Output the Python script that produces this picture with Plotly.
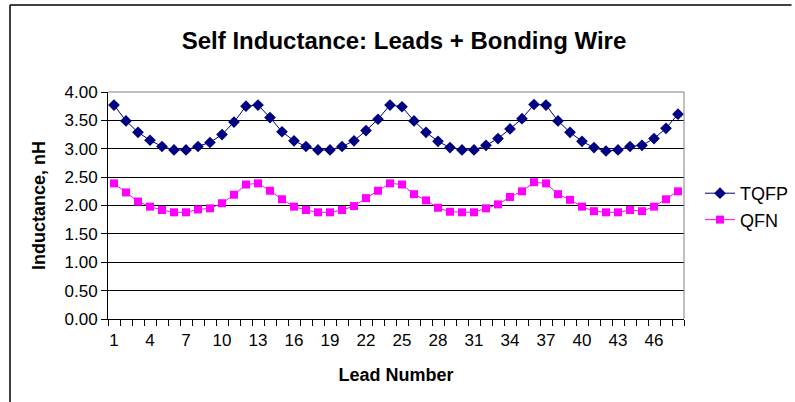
import plotly.graph_objects as go

leads = list(range(1, 49))
tqfp = [3.77, 3.49, 3.29, 3.15, 3.04, 2.98, 2.98, 3.04, 3.11, 3.25, 3.47, 3.75,
        3.77, 3.55, 3.30, 3.14, 3.04, 2.98, 2.98, 3.04, 3.14, 3.32, 3.52, 3.77,
        3.74, 3.49, 3.29, 3.13, 3.02, 2.98, 2.98, 3.06, 3.18, 3.35, 3.53, 3.78,
        3.77, 3.49, 3.29, 3.13, 3.02, 2.96, 2.98, 3.04, 3.06, 3.18, 3.36, 3.61]
qfn = [2.39, 2.23, 2.07, 1.98, 1.92, 1.88, 1.88, 1.93, 1.95, 2.04, 2.19, 2.37,
       2.39, 2.26, 2.11, 1.98, 1.92, 1.88, 1.88, 1.92, 1.99, 2.13, 2.26, 2.39,
       2.37, 2.20, 2.09, 1.96, 1.89, 1.88, 1.88, 1.95, 2.02, 2.15, 2.25, 2.41,
       2.39, 2.20, 2.10, 1.98, 1.90, 1.88, 1.88, 1.92, 1.90, 1.98, 2.11, 2.25]
x_tick_vals = list(range(1, 49, 3))
y_tick_vals = [0, 0.5, 1, 1.5, 2, 2.5, 3, 3.5, 4]
y_tick_text = ["%.2f" % v for v in y_tick_vals]

FONT = "Liberation Sans, Arial, sans-serif"

fig = go.Figure()
fig.add_trace(go.Scatter(x=leads, y=tqfp, name="TQFP", mode="lines+markers",
                         line=dict(color="#000080", width=1),
                         marker=dict(symbol="diamond", size=9, color="#000080")))
fig.add_trace(go.Scatter(x=leads, y=qfn, name="QFN", mode="lines+markers",
                         line=dict(color="#FF00FF", width=1),
                         marker=dict(symbol="square", size=8, color="#FF00FF")))

L, R, T, B = 108, 111, 92, 83
W, H = 795, 402
pw, ph = W - L - R, H - T - B

def px(x):
    return (x - L) / pw

def py(y):
    return (H - B - y) / ph

shapes = [
    dict(type="line", xref="paper", yref="paper", x0=0, x1=1, y0=1, y1=1,
         line=dict(color="#808080", width=1)),
    dict(type="line", xref="paper", yref="paper", x0=1, x1=1, y0=0, y1=1,
         line=dict(color="#808080", width=1)),
    dict(type="line", xref="paper", yref="paper", x0=px(10), x1=px(10), y0=py(402), y1=py(5),
         line=dict(color="#000000", width=1.5)),
    dict(type="line", xref="paper", yref="paper", x0=px(10), x1=px(791.5), y0=py(5), y1=py(5),
         line=dict(color="#000000", width=1.5)),
]

fig.update_layout(
    width=W, height=H,
    margin=dict(l=L, r=R, t=T, b=B, autoexpand=False),
    paper_bgcolor="white", plot_bgcolor="white",
    font=dict(family=FONT, color="#000000"),
    title=dict(text="<b>Self Inductance: Leads + Bonding Wire</b>",
               font=dict(size=24, family=FONT, color="#000000"),
               x=404 / W, xanchor="center", y=(H - 41) / H, yanchor="middle"),
    xaxis=dict(range=[0.5, 48.5], tickmode="array", tickvals=x_tick_vals,
               ticktext=[str(v) for v in x_tick_vals], ticks="",
               ticklabelstandoff=6,
               showgrid=False, zeroline=False, showline=True, linecolor="#000000",
               linewidth=1, tickfont=dict(size=17, family=FONT),
               minor=dict(tick0=0.5, dtick=1, ticks="outside", ticklen=6,
                          tickcolor="#000000", showgrid=False),
               title=dict(text="<b>Lead Number</b>", font=dict(size=18, family=FONT),
                          standoff=18)),
    yaxis=dict(range=[0, 4], tickmode="array", tickvals=y_tick_vals, ticktext=y_tick_text,
               ticks="outside", ticklen=6, tickcolor="#000000",
               showgrid=True, gridcolor="#000000", gridwidth=1, zeroline=False,
               showline=True, linecolor="#000000", linewidth=1,
               tickfont=dict(size=17, family=FONT),
               title=dict(text="<b>Inductance, nH</b>", font=dict(size=18, family=FONT),
                          standoff=14)),
    legend=dict(x=px(700), y=py(175), xanchor="left", yanchor="top",
                font=dict(size=18, family=FONT), bgcolor="rgba(0,0,0,0)",
                tracegroupgap=0, itemwidth=30),
    shapes=shapes,
    showlegend=True,
)

fig.write_html("out.html", config={"displayModeBar": False},
               post_script="document.body.style.margin='0px';document.body.style.overflow='hidden';")
